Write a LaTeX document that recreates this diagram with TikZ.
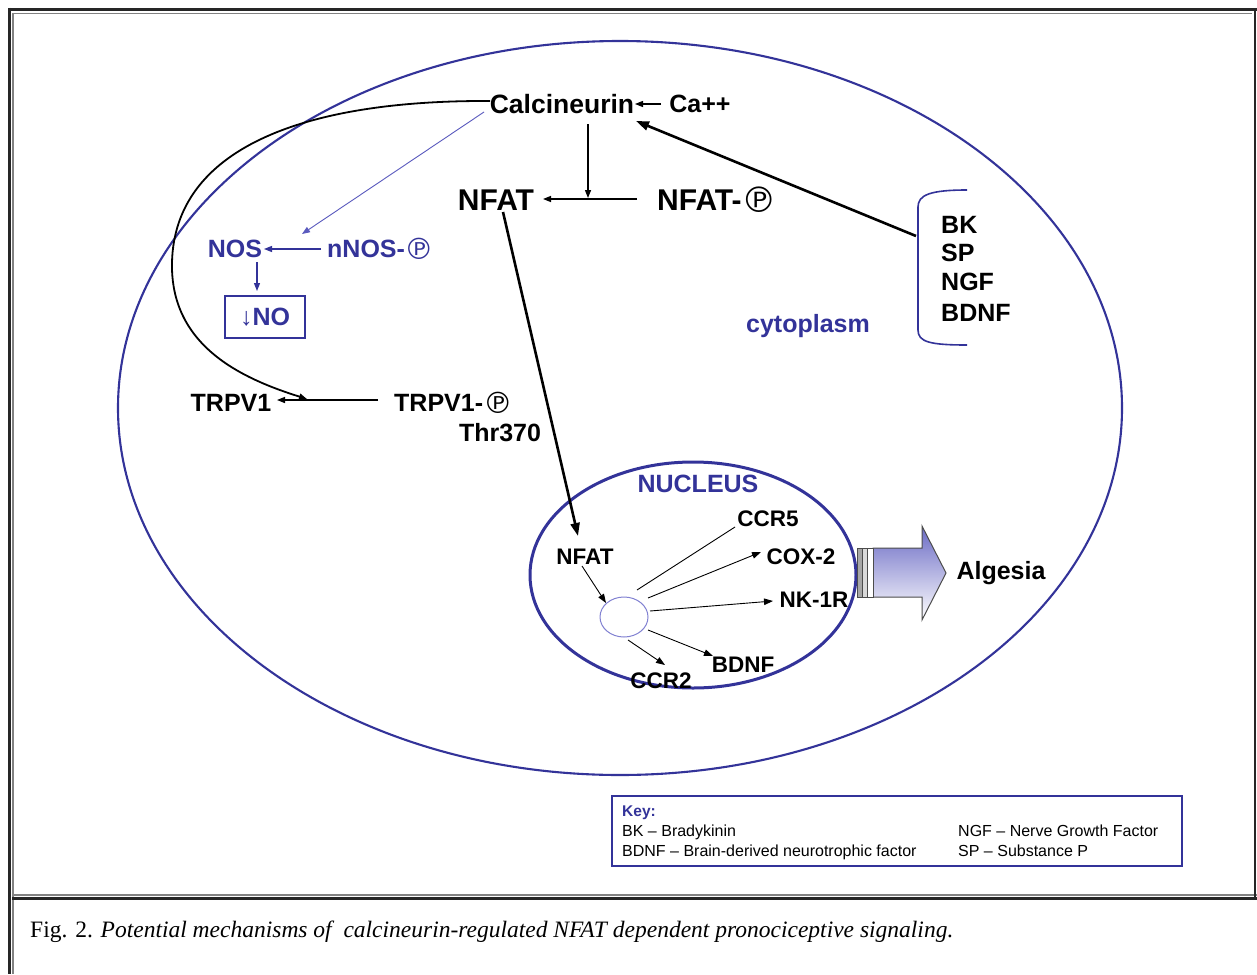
\documentclass[tikz,border=0pt]{standalone}
\usepackage{fontspec}
\usepackage{graphicx}
\setmainfont{Liberation Sans}
\newfontfamily\dejavu{DejaVu Sans}
\newfontfamily\capserif{Liberation Serif}
\usetikzlibrary{arrows.meta,shapes.geometric}
\definecolor{dblue}{RGB}{51,51,153}
\definecolor{lblue}{RGB}{90,90,190}
\definecolor{cblue}{RGB}{130,130,210}
\definecolor{frgray}{RGB}{130,130,130}
\newcommand{\cP}{{\dejavu\mdseries\raisebox{-0.08em}{\scalebox{1.18}{℗}}}}
\begin{document}
\begin{tikzpicture}[x=1pt,y=-1pt,
  lab/.style={inner sep=0pt, font=\fontsize{25}{25}\selectfont\bfseries},
  big/.style={inner sep=0pt, font=\fontsize{30}{30}\selectfont\bfseries},
  blab/.style={lab, text=dblue},
  sml/.style={inner sep=0pt, font=\fontsize{22.5}{22.5}\selectfont\bfseries},
  keyt/.style={inner sep=0pt, anchor=base west, font=\fontsize{16}{16}\selectfont},
  arr/.style={-{Triangle[length=8pt,width=6pt]}, line width=1.4pt},
  tarr/.style={-{Triangle[length=13pt,width=9pt]}, line width=2.6pt},
  barr/.style={-{Triangle[length=8pt,width=6pt]}, line width=1.3pt, dblue},
  narr/.style={-{Triangle[length=9pt,width=6.5pt]}, line width=0.9pt},
]
\useasboundingbox (0,0) rectangle (1257,974);
\fill[white] (0,0) rectangle (1257,974);
% frame
\draw[frgray, line width=1.5pt] (12.5,13.5) -- (1252,13.5);
\draw[frgray, line width=1.5pt] (13,13) -- (13,974);
\draw[frgray, line width=1.2pt] (13,895) -- (1257,895);
\draw[black!85, line width=3pt] (8,9.5) -- (1257,9.5);
\draw[black!85, line width=3pt] (9.5,8) -- (9.5,974);
\draw[black!85, line width=2.5pt] (1255,9) -- (1255,898);
\draw[black!85, line width=3pt] (12,898.5) -- (1257,898.5);

% cell
\draw[dblue, line width=2.1pt] (620,408) ellipse [x radius=502pt, y radius=367pt];
% nucleus
\draw[dblue, line width=3pt] (693,575) ellipse [x radius=163pt, y radius=113pt];

% nodes
\node[lab, font=\fontsize{26.5}{26.5}\selectfont\bfseries] (calc) at (562,104) {Calcineurin};
\node[lab] (ca) at (700,104) {Ca++};
\node[big] (nfat) at (496,200) {NFAT};
\node[big, anchor=west] (nfatp) at (657,200) {NFAT-\cP};
\node[blab] (nos) at (235,249) {NOS};
\node[blab, anchor=west] (nnos) at (327,249) {nNOS-\cP};
\node[blab, draw=dblue, line width=1.2pt, minimum width=80pt, minimum height=42pt] (no) at (265,317) {↓NO};
\node[lab] (trpv) at (231,403) {TRPV1};
\node[lab, anchor=west] (trpvp) at (394,403) {TRPV1-\cP};
\node[lab] (thr) at (500,433) {Thr370};
\node[blab] (cyto) at (808,326) {cytoplasm};
\node[lab, anchor=base west] (bk) at (941,233) {BK};
\node[lab, anchor=base west] (sp) at (941,261) {SP};
\node[lab, anchor=base west] (ngf) at (941,290) {NGF};
\node[lab, anchor=base west] (bdnf) at (941,321) {BDNF};

\node[blab] (nuc) at (698,484) {NUCLEUS};
\node[sml] (nfat2) at (585,557) {NFAT};
\node[sml] (ccr5) at (768,519) {CCR5};
\node[sml] (cox) at (801,557) {COX-2};
\node[sml] (nk) at (814,600) {NK-1R};
\node[sml] (bdnf2) at (743,665) {BDNF};
\node[sml] (ccr2) at (661,681) {CCR2};
\node[lab] (alg) at (1001,573) {Algesia};
\node[ellipse, draw=cblue, line width=1pt, minimum width=48pt, minimum height=40pt, inner sep=0pt] (sc) at (624,617) {};

% bracket
\draw[dblue, line width=1.6pt] (967,190) .. controls (930,190) and (918,195) .. (918,207) -- (918,330) .. controls (918,342) and (930,345) .. (967,345);

% coordinates
\coordinate (calcW) at (490,101);
\coordinate (calcB) at (588,124);
\coordinate (calcE) at (635,104);
\coordinate (calcR) at (636,121);
\coordinate (calcSW) at (484,112);
\coordinate (caW) at (661,104);
\coordinate (nfatJ) at (588,198);
\coordinate (nfatR) at (543,199);
\coordinate (nfatpL) at (637,199);
\coordinate (nfatS) at (503,212);
\coordinate (brk) at (916,236);
\coordinate (nosR) at (264,249);
\coordinate (nnosL) at (321,249);
\coordinate (nosS) at (257,262);
\coordinate (noN) at (257,291);
\coordinate (nosNE) at (302,234);
\coordinate (trpvR) at (277,400);
\coordinate (trpvJ) at (307,399);
\coordinate (trpvpL) at (378,400);
\coordinate (nucIn) at (578,536);
\coordinate (nf2S) at (582,566);
\coordinate (scIn) at (606,603);
\coordinate (s1) at (637,590);
\coordinate (e1) at (735,527);
\coordinate (s2) at (648,598);
\coordinate (e2) at (761,552);
\coordinate (s3) at (650,611);
\coordinate (e3) at (773,601);
\coordinate (s4) at (648,630);
\coordinate (e4) at (713,656);
\coordinate (s5) at (628,640);
\coordinate (e5) at (665,665);

% connectors
\draw[arr, line width=1.2pt] (caW) -- (calcE);
\draw[arr] (calcB) -- (nfatJ);
\draw[arr] (nfatpL) -- (nfatR);
\draw[tarr] (brk) -- (calcR);
\draw[tarr] (nfatS) -- (nucIn);
\draw[-{Triangle[length=8pt,width=6pt]}, line width=0.9pt, lblue] (calcSW) -- (nosNE);
\draw[barr] (nnosL) -- (nosR);
\draw[barr] (nosS) -- (noN);
\draw[arr] (trpvpL) -- (trpvR);
\draw[arr, line width=1.8pt] (calcW) .. controls (300,100) and (175,150) .. (172,262) .. controls (170,345) and (240,378) .. (trpvJ);
\draw[narr] (nf2S) -- (scIn);
\draw[line width=0.9pt] (s1) -- (e1);
\draw[narr] (s2) -- (e2);
\draw[narr] (s3) -- (e3);
\draw[narr] (s4) -- (e4);
\draw[narr] (s5) -- (e5);

% block arrow
\shade[top color=lblue!90, bottom color=white] (873,548) -- (922,548) -- (922,526) -- (946,573) -- (922,620) -- (922,597) -- (873,597) -- cycle;
\draw[black!70, line width=1pt] (873,548) -- (922,548) -- (922,526) -- (946,573) -- (922,620) -- (922,597) -- (873,597) -- cycle;
\draw[black!70, line width=1pt, fill=black!35] (857,548) rectangle (862,597);
\draw[black!70, line width=1pt, fill=black!15] (862,548) rectangle (867,597);
\draw[black!70, line width=1pt, fill=white] (867,548) rectangle (873,597);

% key
\node[draw=dblue, line width=1.2pt, minimum width=570pt, minimum height=70pt, inner sep=0pt] (key) at (897,831) {};
\node[keyt, text=dblue, font=\fontsize{15.5}{15.5}\selectfont\bfseries] (keyh) at (622,816) {Key:};
\node[keyt] (k1) at (622,836) {BK – Bradykinin};
\node[keyt] (k2) at (622,856) {BDNF – Brain-derived neurotrophic factor};
\node[keyt] (k3) at (958,836) {NGF – Nerve Growth Factor};
\node[keyt] (k4) at (958,856) {SP – Substance P};

% caption
\node[anchor=west, inner sep=0pt, font=\capserif\fontsize{23.5}{23.5}\selectfont] (cap) at (30,932) {Fig. 2. \textit{Potential mechanisms of\ \ calcineurin-regulated NFAT dependent pronociceptive signaling.}};
\end{tikzpicture}
\end{document}
